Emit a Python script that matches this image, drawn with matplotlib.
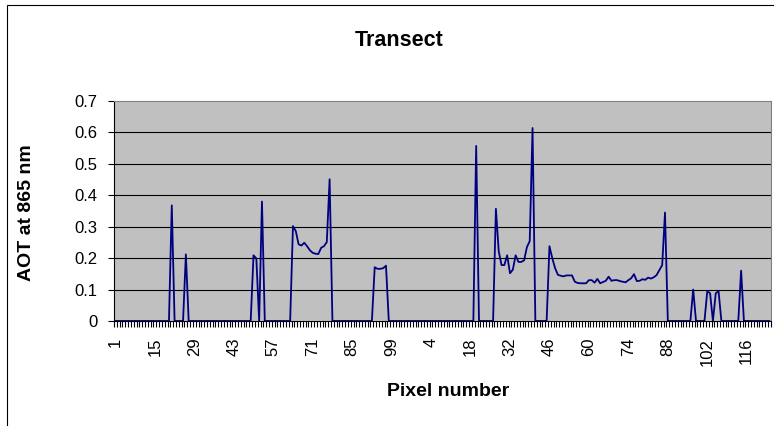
import matplotlib
matplotlib.use("Agg")
import matplotlib.pyplot as plt
from matplotlib.patches import Rectangle
from matplotlib.ticker import FixedLocator, FuncFormatter
import numpy as np

plt.rcParams['font.family'] = ['Liberation Sans', 'DejaVu Sans']

# AOT at 865 nm along the transect, two scan lines joined end to end
aot_a = [
    0, 0, 0, 0, 0, 0, 0, 0, 0, 0,
    0, 0, 0, 0, 0, 0, 0, 0, 0, 0,
    0.368, 0, 0, 0, 0, 0.212, 0, 0, 0, 0,
    0, 0, 0, 0, 0, 0, 0, 0, 0, 0,
    0, 0, 0, 0, 0, 0, 0, 0, 0, 0.209,
    0.199, 0, 0.380, 0, 0, 0, 0, 0, 0, 0,
    0, 0, 0, 0.302, 0.286, 0.244, 0.240, 0.249, 0.238, 0.225,
    0.217, 0.214, 0.213, 0.233, 0.238, 0.251, 0.451, 0, 0, 0,
    0, 0, 0, 0, 0, 0, 0, 0, 0, 0,
    0, 0, 0.171, 0.166, 0.166, 0.168, 0.176, 0, 0, 0,
    0, 0, 0, 0, 0, 0, 0, 0, 0,
]
aot_b = [
    0, 0, 0, 0, 0, 0, 0, 0, 0, 0,
    0, 0, 0, 0, 0, 0, 0, 0, 0, 0.557,
    0, 0, 0, 0, 0, 0, 0.357, 0.222, 0.178, 0.178,
    0.209, 0.152, 0.163, 0.209, 0.188, 0.188, 0.193, 0.235, 0.254, 0.614,
    0, 0, 0, 0, 0, 0.238, 0.200, 0.168, 0.147, 0.144,
    0.142, 0.145, 0.145, 0.145, 0.125, 0.121, 0.120, 0.120, 0.120, 0.130,
    0.130, 0.122, 0.134, 0.120, 0.124, 0.128, 0.141, 0.128, 0.130, 0.130,
    0.127, 0.125, 0.123, 0.130, 0.136, 0.149, 0.127, 0.128, 0.133, 0.131,
    0.138, 0.135, 0.139, 0.146, 0.162, 0.178, 0.345, 0, 0, 0,
    0, 0, 0, 0, 0, 0, 0.100, 0, 0, 0,
    0, 0.095, 0.088, 0, 0.088, 0.095, 0, 0, 0, 0,
    0, 0, 0, 0.160, 0, 0, 0, 0, 0, 0,
    0, 0, 0, 0,
]
pixel_ids = list(range(1, len(aot_a) + 1)) + list(range(1, len(aot_b) + 1))
aot = np.array(aot_a + aot_b)
n = len(aot)

W, H = 774, 426
fig = plt.figure(figsize=(W / 100, H / 100), dpi=100)

# outer chart border
fig.patches.append(Rectangle((7 / W, -0.1), 1.2, 1 - 5 / H + 0.1,
                             transform=fig.transFigure, fill=False,
                             edgecolor='black', linewidth=0.8))

left, right, top, bottom = 114, 770.7, 101, 321
ax = fig.add_axes([left / W, 1 - bottom / H, (right - left) / W, (bottom - top) / H])
ax.set_facecolor('#C0C0C0')

x = np.arange(n) + 0.5
ax.plot(x, aot, color='#000080', linewidth=1.3, zorder=3)

ax.set_xlim(0, n)
ax.set_ylim(0, 0.7)

yt = np.round(np.arange(0, 0.71, 0.1), 1)
ax.set_yticks(yt)
ax.yaxis.set_major_formatter(FuncFormatter(lambda v, p: '0' if v == 0 else f'{v:.1f}'))
for v in yt[1:-1]:
    ax.axhline(v, color='black', linewidth=0.8, zorder=1)

# category labels every 14th pixel, tick marks between every category
lab_pos = x[::14]
ax.xaxis.set_major_locator(FixedLocator(lab_pos))
ax.set_xticklabels([str(p) for p in pixel_ids[::14]], rotation=90, va='top', ha='center')
ax.xaxis.set_minor_locator(FixedLocator(np.arange(n + 1)))
ax.tick_params(axis='x', which='major', length=0, pad=12, labelsize=12)
ax.tick_params(axis='x', which='minor', length=4, width=0.8, direction='out', color='black')
ax.tick_params(axis='y', which='major', length=4, width=0.8, direction='out', pad=8, labelsize=12)

for s in ('top', 'right'):
    ax.spines[s].set_color('#808080')
    ax.spines[s].set_linewidth(0.8)
for s in ('left', 'bottom'):
    ax.spines[s].set_color('black')
    ax.spines[s].set_linewidth(0.8)
ax.spines['bottom'].set_zorder(4)

fig.text(399 / W, 1 - 40 / H, 'Transect', ha='center', va='center',
         fontsize=15.5, fontweight='bold')
fig.text(27 / W, 1 - 213 / H, 'AOT at 865 nm', ha='center', va='center',
         rotation=90, fontsize=14, fontweight='bold')
fig.text(448 / W, 1 - 392 / H, 'Pixel number', ha='center', va='center',
         fontsize=14, fontweight='bold')

fig.savefig('out.png', dpi=100)
